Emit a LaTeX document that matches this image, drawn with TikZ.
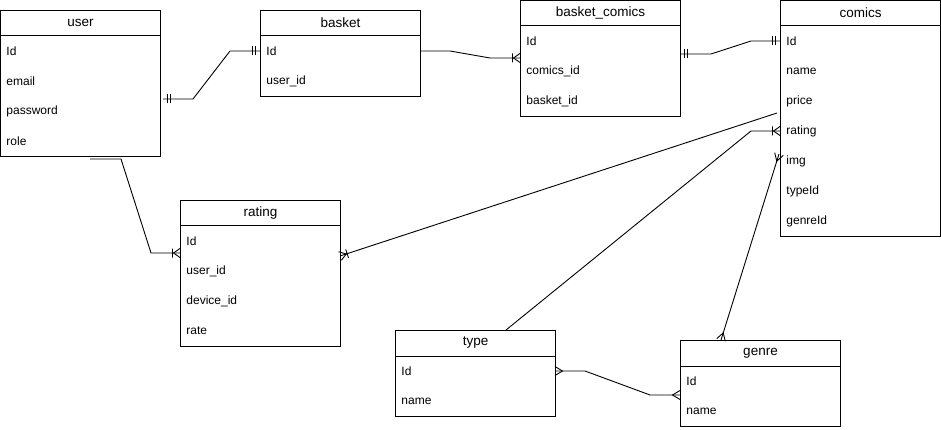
\documentclass[tikz,border=0pt]{standalone}
\usepackage{fontspec}
\setmainfont{Liberation Sans}
\begin{document}
\begin{tikzpicture}[x=1pt,y=1pt,
  line width=0.9pt, line join=miter,
  tbl/.style={draw, line width=1pt, minimum width=160pt, inner sep=0pt, fill=white},
  hdr/.style={font=\fontsize{13.5}{15}\selectfont, inner sep=0pt},
  row/.style={font=\fontsize{12}{14}\selectfont, inner sep=0pt, anchor=west},
  conn/.style={draw, line width=0.9pt},
  mone/.pic={\draw[line width=0.9pt] (4.5,-4.5)--(4.5,4.5) (7.5,-4.5)--(7.5,4.5);},
  onemany/.pic={\draw[line width=0.9pt] (0,-4.5)--(6.5,0)--(0,4.5) (7.5,-4.5)--(7.5,4.5);},
  many/.pic={\draw[line width=0.9pt] (0,-4.5)--(7.5,0)--(0,4.5);}
]
\useasboundingbox (0,0) rectangle (941,-430);

\newcommand{\ertbl}[5]{%
  \node[tbl, minimum height=#4pt, anchor=north west] (#1) at (#2,-#3) {};
  \node[hdr] (#1-h) at ([yshift=-13pt]#1.north) {#5};
  \draw[line width=1pt] ([yshift=-26pt]#1.north west) -- ([yshift=-26pt]#1.north east);
}
\newcommand{\errow}[3]{%
  \node[row] (#1-r#2) at ([xshift=6pt,yshift={-(11+30*#2)*1pt}]#1.north west) {#3};
}

% tables
\ertbl{user}{0}{10}{146}{user}
\errow{user}{1}{Id}\errow{user}{2}{email}\errow{user}{3}{password}\errow{user}{4}{role}

\ertbl{basket}{260}{10}{86}{basket}
\errow{basket}{1}{Id}\errow{basket}{2}{user\_id}

\ertbl{bc}{520}{0}{116}{basket\_comics}
\errow{bc}{1}{Id}\errow{bc}{2}{comics\_id}\errow{bc}{3}{basket\_id}

\ertbl{comics}{780}{0}{236}{comics}
\errow{comics}{1}{Id}\errow{comics}{2}{name}\errow{comics}{3}{price}\errow{comics}{4}{rating}
\errow{comics}{5}{img}\errow{comics}{6}{typeId}\errow{comics}{7}{genreId}

\ertbl{rating}{180}{200}{146}{rating}
\errow{rating}{1}{Id}\errow{rating}{2}{user\_id}\errow{rating}{3}{device\_id}\errow{rating}{4}{rate}

\ertbl{type}{395}{330}{86}{type}
\errow{type}{1}{Id}\errow{type}{2}{name}

\ertbl{genre}{680}{340}{86}{genre}
\errow{genre}{1}{Id}\errow{genre}{2}{name}

% connector end points
\coordinate (ub1) at (163,-99);  \coordinate (ub2) at (260,-51);
\coordinate (bb1) at (420,-51);  \coordinate (bb2) at (520,-58);
\coordinate (bcc1) at (680,-54); \coordinate (bcc2) at (780,-41);
\coordinate (ur1) at (90,-159);  \coordinate (ur2) at (180,-253);
\coordinate (cr1) at (777,-113); \coordinate (cr2) at (340,-256);
\coordinate (tc1) at (506,-330); \coordinate (tc2) at (780,-131);
\coordinate (gc1) at (721,-340); \coordinate (gc2) at (779,-154);
\coordinate (tg1) at (555,-371); \coordinate (tg2) at (680,-395);

% connectors
\draw[conn] (ub1) -- (193,-99) -- (230,-51) -- (ub2);
\pic at (ub1) {mone}; \pic[rotate=180] at (ub2) {mone};

\draw[conn] (bb1) -- (450,-51) -- (490,-58) -- (bb2);
\pic[rotate=180] at (bb2) {onemany};

\draw[conn] (bcc1) -- (711,-54) -- (751,-41) -- (bcc2);
\pic at (bcc1) {mone}; \pic[rotate=180] at (bcc2) {mone};

\draw[conn] (ur1) -- (121,-159) -- (151,-253) -- (ur2);
\pic[rotate=180] at (ur2) {onemany};

\draw[conn] (cr1) -- (cr2);
\pic[rotate=18.1] at (cr2) {onemany};

\draw[conn] (tc1) -- (751,-131) -- (tc2);
\pic[rotate=180] at (tc2) {onemany};

\draw[conn] (gc1) -- (gc2);
\pic[rotate=72.7] at (gc1) {many}; \pic[rotate=252.7] at (gc2) {many};

\draw[conn] (tg1) -- (585,-371) -- (650,-395) -- (tg2);
\pic at (tg1) {many}; \pic[rotate=180] at (tg2) {many};
\end{tikzpicture}
\end{document}
